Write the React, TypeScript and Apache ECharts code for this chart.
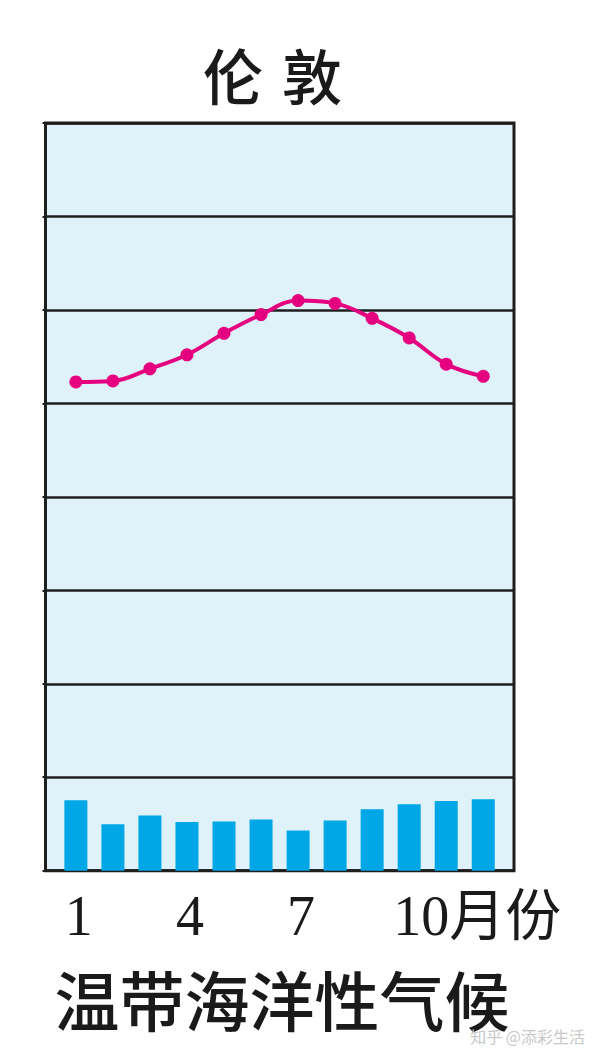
import React, { useEffect, useRef } from "react";
import * as echarts from "echarts";

const months = [1, 2, 3, 4, 5, 6, 7, 8, 9, 10, 11, 12];
const temperature = [2.3, 2.4, 3.7, 5.2, 7.5, 9.5, 11.0, 10.7, 9.1, 7.0, 4.2, 2.9];
const precipitation = [37.7, 24.8, 29.5, 26.1, 26.3, 27.4, 21.5, 26.8, 32.9, 35.5, 37.3, 38.2];
const tickMonths = [1, 4, 7, 10];
const tickLabels = ["1", "4", "7", "10月份"];
const titleChars = ["伦", "敦"];
const subtitle = "温带海洋性气候";
const watermark = "知乎 @添彩生活";

const SERIF = "'Liberation Serif', 'DejaVu Serif', 'Noto Sans CJK SC', serif";
const CJK = "'Noto Sans CJK SC', sans-serif";

export default function App() {
  const ref = useRef<HTMLDivElement>(null);
  useEffect(() => {
    document.body.style.margin = "0";
    const chart = echarts.init(ref.current!, null, { renderer: "svg" });
    chart.setOption({
      animation: false,
      backgroundColor: "#ffffff",
      grid: {
        left: 45.5,
        top: 123,
        width: 468.5,
        height: 747.7,
        show: true,
        backgroundColor: "#dff2f9",
        borderColor: "#1e1e1e",
        borderWidth: 3,
      },
      xAxis: {
        type: "value",
        min: 0.18,
        max: 12.83,
        show: false,
      },
      yAxis: [
        {
          type: "value",
          min: -50,
          max: 30,
          interval: 10,
          axisLine: { show: false },
          axisTick: { show: true, length: 3, lineStyle: { color: "#1e1e1e", width: 2 } },
          axisLabel: { show: false },
          splitLine: { show: true, lineStyle: { color: "#1e1e1e", width: 2.5 } },
        },
        {
          type: "value",
          min: 0,
          max: 400,
          interval: 50,
          show: false,
          splitLine: { show: false },
        },
      ],
      series: [
        {
          type: "bar",
          yAxisIndex: 1,
          data: months.map((m, i) => [m, precipitation[i]]),
          barWidth: 23,
          itemStyle: { color: "#00a7e7" },
          z: 3,
        },
        {
          type: "line",
          yAxisIndex: 0,
          data: months.map((m, i) => [m, temperature[i]]),
          smooth: 0.4,
          symbol: "circle",
          symbolSize: 13,
          lineStyle: { color: "#e4007f", width: 4 },
          itemStyle: { color: "#e4007f" },
          z: 4,
        },
      ],
    });

    const labelGraphics = tickMonths.map((m, i) => {
      const p = chart.convertToPixel({ gridIndex: 0 }, [m, 0]) as number[];
      const isLast = i === tickLabels.length - 1;
      return {
        type: "text",
        x: isLast ? p[0] - 16 : p[0] + 3,
        y: 916,
        style: {
          text: tickLabels[i],
          fontSize: 56,
          fontFamily: SERIF,
          fill: "#1a1a1a",
          align: isLast ? "left" : "center",
          verticalAlign: "middle",
        },
      };
    });

    chart.setOption({
      graphic: [
        {
          type: "text",
          x: 233,
          y: 73,
          style: { text: titleChars[0], fontSize: 60, fontWeight: 500, fontFamily: CJK, fill: "#1a1a1a", align: "center", verticalAlign: "middle" },
        },
        {
          type: "text",
          x: 312,
          y: 73,
          style: { text: titleChars[1], fontSize: 60, fontWeight: 500, fontFamily: CJK, fill: "#1a1a1a", align: "center", verticalAlign: "middle" },
        },
        ...labelGraphics,
        {
          type: "text",
          x: 282,
          y: 998,
          style: { text: subtitle, fontSize: 65, fontWeight: 500, fontFamily: CJK, fill: "#1a1a1a", align: "center", verticalAlign: "middle" },
        },
        {
          type: "text",
          x: 585,
          y: 1036,
          style: { text: watermark, fontSize: 16, fontFamily: CJK, fill: "#c8c8c8", align: "right", verticalAlign: "middle" },
        },
      ],
    });
    return () => chart.dispose();
  }, []);
  return <div ref={ref} style={{ width: 600, height: 1054 }} />;
}
